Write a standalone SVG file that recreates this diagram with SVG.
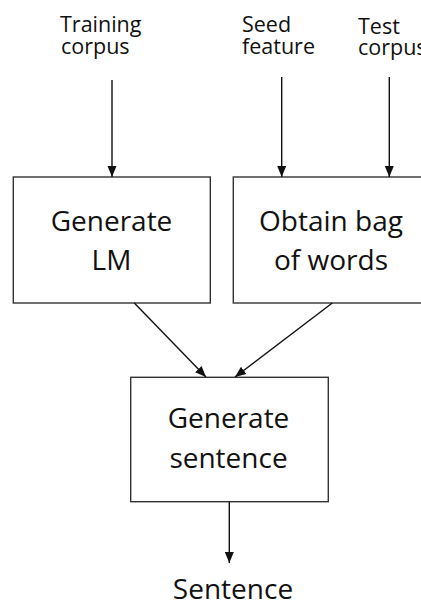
<svg xmlns="http://www.w3.org/2000/svg" width="421" height="603" viewBox="0 0 421 603">
<style>
.box{fill:#fff;stroke:#333;stroke-width:1.4}
.lbl{font-family:"Open Sans","Liberation Sans",sans-serif;font-size:21.5px;fill:#111}
.big{font-family:"Open Sans","Liberation Sans",sans-serif;font-size:28px;fill:#111;text-anchor:middle}
.conn{stroke:#111;stroke-width:1.4;fill:none;marker-end:url(#ah)}
</style>
<defs>
<marker id="ah" markerUnits="userSpaceOnUse" markerWidth="12" markerHeight="12" viewBox="0 0 12 12" refX="11" refY="6" orient="auto">
<path d="M0,1.5 L11,6 L0,10.5 Z" fill="#111"/>
</marker>
</defs>
<rect width="421" height="603" fill="#fff"/>
<g id="training-corpus">
<text class="lbl" x="60" y="32">Training</text>
<text class="lbl" x="61" y="54">corpus</text>
</g>
<g id="seed-feature">
<text class="lbl" x="242" y="32">Seed</text>
<text class="lbl" x="242" y="54">feature</text>
</g>
<g id="test-corpus">
<text class="lbl" x="358" y="34">Test</text>
<text class="lbl" x="358" y="55">corpus</text>
</g>
<g id="generate-lm">
<rect class="box" x="13.3" y="177" width="197" height="126"/>
<text class="big" x="111.5" y="231">Generate</text>
<text class="big" x="111.5" y="270">LM</text>
</g>
<g id="obtain-bag">
<rect class="box" x="233.3" y="177" width="200" height="126"/>
<text class="big" x="331" y="231">Obtain bag</text>
<text class="big" x="331" y="270">of words</text>
</g>
<g id="generate-sentence">
<rect class="box" x="130.7" y="377.3" width="197.6" height="124.4"/>
<text class="big" x="228.5" y="428">Generate</text>
<text class="big" x="228.5" y="468">sentence</text>
</g>
<g id="sentence">
<text class="big" x="233" y="599">Sentence</text>
</g>
<g id="connectors">
<line class="conn" x1="112" y1="80" x2="112" y2="177"/>
<line class="conn" x1="281.7" y1="77" x2="281.7" y2="177"/>
<line class="conn" x1="389.3" y1="77" x2="389.3" y2="177"/>
<line class="conn" x1="134.3" y1="303" x2="206" y2="377"/>
<line class="conn" x1="332.3" y1="303" x2="235" y2="377"/>
<line class="conn" x1="229.3" y1="502" x2="229.3" y2="563"/>
</g>
</svg>
